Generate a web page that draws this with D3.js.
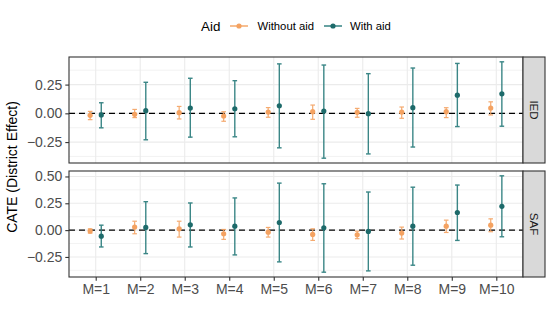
<!DOCTYPE html>
<html>
<head>
<meta charset="utf-8">
<script src="https://cdn.jsdelivr.net/npm/d3@7"></script>
<style>
  body { margin: 0; background: #fff; }
  text { font-family: "Liberation Sans", Arial, sans-serif; }
</style>
</head>
<body>
<div id="graph"></div>
<script>
// data
const categories = ["M=1","M=2","M=3","M=4","M=5","M=6","M=7","M=8","M=9","M=10"];
const groups = ["Without aid","With aid"];
const panels = ["IED","SAF"];

const iedWithoutEst = [-0.017,-0.009,0.006,-0.023,0.011,0.014,0.009,0.011,0.014,0.046];
const iedWithoutLo  = [-0.055,-0.037,-0.049,-0.069,-0.034,-0.052,-0.034,-0.043,-0.037,-0.014];
const iedWithoutHi  = [0.017,0.034,0.060,0.014,0.050,0.072,0.043,0.055,0.049,0.100];
const iedWithEst = [-0.014,0.023,0.046,0.040,0.066,0.020,-0.003,0.049,0.158,0.170];
const iedWithLo  = [-0.126,-0.230,-0.207,-0.204,-0.300,-0.390,-0.353,-0.293,-0.115,-0.112];
const iedWithHi  = [0.092,0.270,0.305,0.284,0.430,0.420,0.345,0.394,0.434,0.448];

const safWithoutEst = [-0.009,0.028,0.012,-0.034,-0.019,-0.040,-0.043,-0.028,0.037,0.046];
const safWithoutLo  = [-0.028,-0.034,-0.065,-0.086,-0.065,-0.096,-0.080,-0.083,-0.022,-0.015];
const safWithoutHi  = [0.012,0.083,0.083,0.006,0.025,0.012,-0.010,0.028,0.093,0.105];
const safWithEst = [-0.056,0.025,0.049,0.037,0.071,0.022,-0.012,0.037,0.164,0.222];
const safWithLo  = [-0.157,-0.219,-0.157,-0.231,-0.296,-0.392,-0.380,-0.327,-0.096,-0.062];
const safWithHi  = [0.046,0.265,0.253,0.300,0.438,0.432,0.355,0.400,0.420,0.506];

const yTicks = [-0.25, 0, 0.25, 0.5];
const yMinor = [-0.375, -0.125, 0.125, 0.375, 0.625];

const width = 553, height = 310;
const padding = {left: 69, right: 8, top: 57, bottom: 33};
const panelH = 106, panelGap = 8, stripW = 22;

const barColor = {"Without aid": "#f4a261", "With aid": "#267a7a"};
const dotColor = {"Without aid": "#f4a261", "With aid": "#1d6a6a"};

function rows(est, lo, hi, group) {
	return categories.map((c, i) => ({cat: c, group: group, est: est[i], lo: lo[i], hi: hi[i]}));
}
const panelData = [
	rows(iedWithoutEst, iedWithoutLo, iedWithoutHi, "Without aid").concat(rows(iedWithEst, iedWithLo, iedWithHi, "With aid")),
	rows(safWithoutEst, safWithoutLo, safWithoutHi, "Without aid").concat(rows(safWithEst, safWithLo, safWithHi, "With aid"))
];

const graph = d3.select("div#graph")
	.append("svg")
	.attr("width", width)
	.attr("height", height);

const x0 = padding.left, x1 = width - padding.right - stripW; // 523
const xScale = d3.scalePoint()
	.domain(categories)
	.range([x0, x1])
	.padding(0.6);
const dodge = d3.scalePoint().domain(groups).range([-0.125, 0.125]);
const step = xScale.step();

panels.forEach(function(name, p) {
	const data = panelData[p];
	const top = padding.top + p * (panelH + panelGap);
	const lo = d3.min(data, d => d.lo), hi = d3.max(data, d => d.hi);
	const pad = (hi - lo) * 0.05;
	const yScale = d3.scaleLinear()
		.domain([lo - pad, hi + pad])
		.range([top + panelH, top]);
	const inDom = v => v >= yScale.domain()[0] && v <= yScale.domain()[1];

	const g = graph.append("g").attr("class", "panel");
	g.append("rect")
		.attr("x", x0).attr("y", top)
		.attr("width", x1 - x0).attr("height", panelH)
		.attr("fill", "#fff");

	// grid
	g.selectAll("line.minor").data(yMinor.filter(inDom)).enter().append("line")
		.attr("x1", x0).attr("x2", x1)
		.attr("y1", d => yScale(d)).attr("y2", d => yScale(d))
		.attr("stroke", "#ebebeb").attr("stroke-width", 0.6);
	g.selectAll("line.major").data(yTicks.filter(inDom)).enter().append("line")
		.attr("x1", x0).attr("x2", x1)
		.attr("y1", d => yScale(d)).attr("y2", d => yScale(d))
		.attr("stroke", "#ebebeb").attr("stroke-width", 1.1);
	g.selectAll("line.vgrid").data(categories).enter().append("line")
		.attr("x1", d => xScale(d)).attr("x2", d => xScale(d))
		.attr("y1", top).attr("y2", top + panelH)
		.attr("stroke", "#ebebeb").attr("stroke-width", 1.1);

	// reference line at zero
	g.append("line")
		.attr("x1", x0).attr("x2", x1)
		.attr("y1", yScale(0)).attr("y2", yScale(0))
		.attr("stroke", "#000").attr("stroke-width", 1.3)
		.attr("stroke-dasharray", "6,4");

	const cx = d => xScale(d.cat) + dodge(d.group) * step;

	// error bars
	const bars = g.selectAll("g.bar").data(data).enter().append("g")
		.attr("stroke", d => barColor[d.group])
		.attr("stroke-width", d => d.group === "With aid" ? 1.4 : 1.2)
		.attr("opacity", 0.9);
	bars.append("line")
		.attr("x1", cx).attr("x2", cx)
		.attr("y1", d => yScale(d.lo)).attr("y2", d => yScale(d.hi));
	bars.append("line")
		.attr("x1", d => cx(d) - 2.3).attr("x2", d => cx(d) + 2.3)
		.attr("y1", d => yScale(d.lo)).attr("y2", d => yScale(d.lo));
	bars.append("line")
		.attr("x1", d => cx(d) - 2.3).attr("x2", d => cx(d) + 2.3)
		.attr("y1", d => yScale(d.hi)).attr("y2", d => yScale(d.hi));

	// points
	g.selectAll("circle").data(data).enter().append("circle")
		.attr("cx", cx).attr("cy", d => yScale(d.est))
		.attr("r", 2.6)
		.attr("fill", d => dotColor[d.group]);

	// border
	g.append("rect")
		.attr("x", x0).attr("y", top)
		.attr("width", x1 - x0).attr("height", panelH)
		.attr("fill", "none").attr("stroke", "#333").attr("stroke-width", 1.1);

	// y axis
	const yAxis = d3.axisLeft(yScale)
		.tickValues(yTicks.filter(inDom))
		.tickFormat(d3.format(".2f"))
		.tickSize(3.7)
		.tickPadding(3);
	const ay = graph.append("g")
		.attr("class", "y axis")
		.attr("transform", `translate(${x0}, 0)`)
		.call(yAxis);
	ay.select(".domain").remove();
	ay.selectAll("line").attr("stroke", "#333").attr("stroke-width", 1.1);
	ay.selectAll("text").attr("fill", "#4d4d4d").style("font-size", "14px")
		.style("font-family", "Liberation Sans, Arial, sans-serif");

	// strip
	graph.append("rect")
		.attr("x", x1).attr("y", top)
		.attr("width", stripW).attr("height", panelH)
		.attr("fill", "#d9d9d9").attr("stroke", "#333").attr("stroke-width", 1.1);
	graph.append("text")
		.attr("transform", `translate(${x1 + stripW / 2}, ${top + panelH / 2}) rotate(90)`)
		.attr("text-anchor", "middle")
		.attr("dy", "0.35em")
		.attr("fill", "#1a1a1a")
		.style("font-size", "11.5px")
		.text(name);
});

// x axis under bottom panel
const bottomY = padding.top + 2 * panelH + panelGap;
const xAxis = d3.axisBottom(xScale).tickSize(3.7).tickPadding(3);
const ax = graph.append("g")
	.attr("class", "x axis")
	.attr("transform", `translate(0, ${bottomY})`)
	.call(xAxis);
ax.select(".domain").remove();
ax.selectAll("line").attr("stroke", "#333").attr("stroke-width", 1.1);
ax.selectAll("text").attr("fill", "#4d4d4d").style("font-size", "14px")
	.style("font-family", "Liberation Sans, Arial, sans-serif");

// y title
graph.append("text")
	.attr("transform", `translate(17, ${padding.top + panelH + panelGap / 2}) rotate(-90)`)
	.attr("text-anchor", "middle")
	.attr("fill", "#000")
	.style("font-size", "14px")
	.text("CATE (District Effect)");

// legend
const legend = graph.append("g").attr("class", "legend").attr("transform", "translate(0, 26)");
legend.append("text").attr("x", 201).attr("dy", "0.36em")
	.style("font-size", "13.4px").text("Aid");
const keyX = [230, 324], labX = [257.5, 350];
groups.forEach(function(gname, i) {
	legend.append("line")
		.attr("x1", keyX[i]).attr("x2", keyX[i] + 18)
		.attr("stroke", barColor[gname]).attr("stroke-width", 1.4);
	legend.append("circle")
		.attr("cx", keyX[i] + 9).attr("r", 2.6).attr("fill", dotColor[gname]);
	legend.append("text").attr("x", labX[i]).attr("dy", "0.36em")
		.style("font-size", "11.3px").text(gname);
});
</script>
</body>
</html>
